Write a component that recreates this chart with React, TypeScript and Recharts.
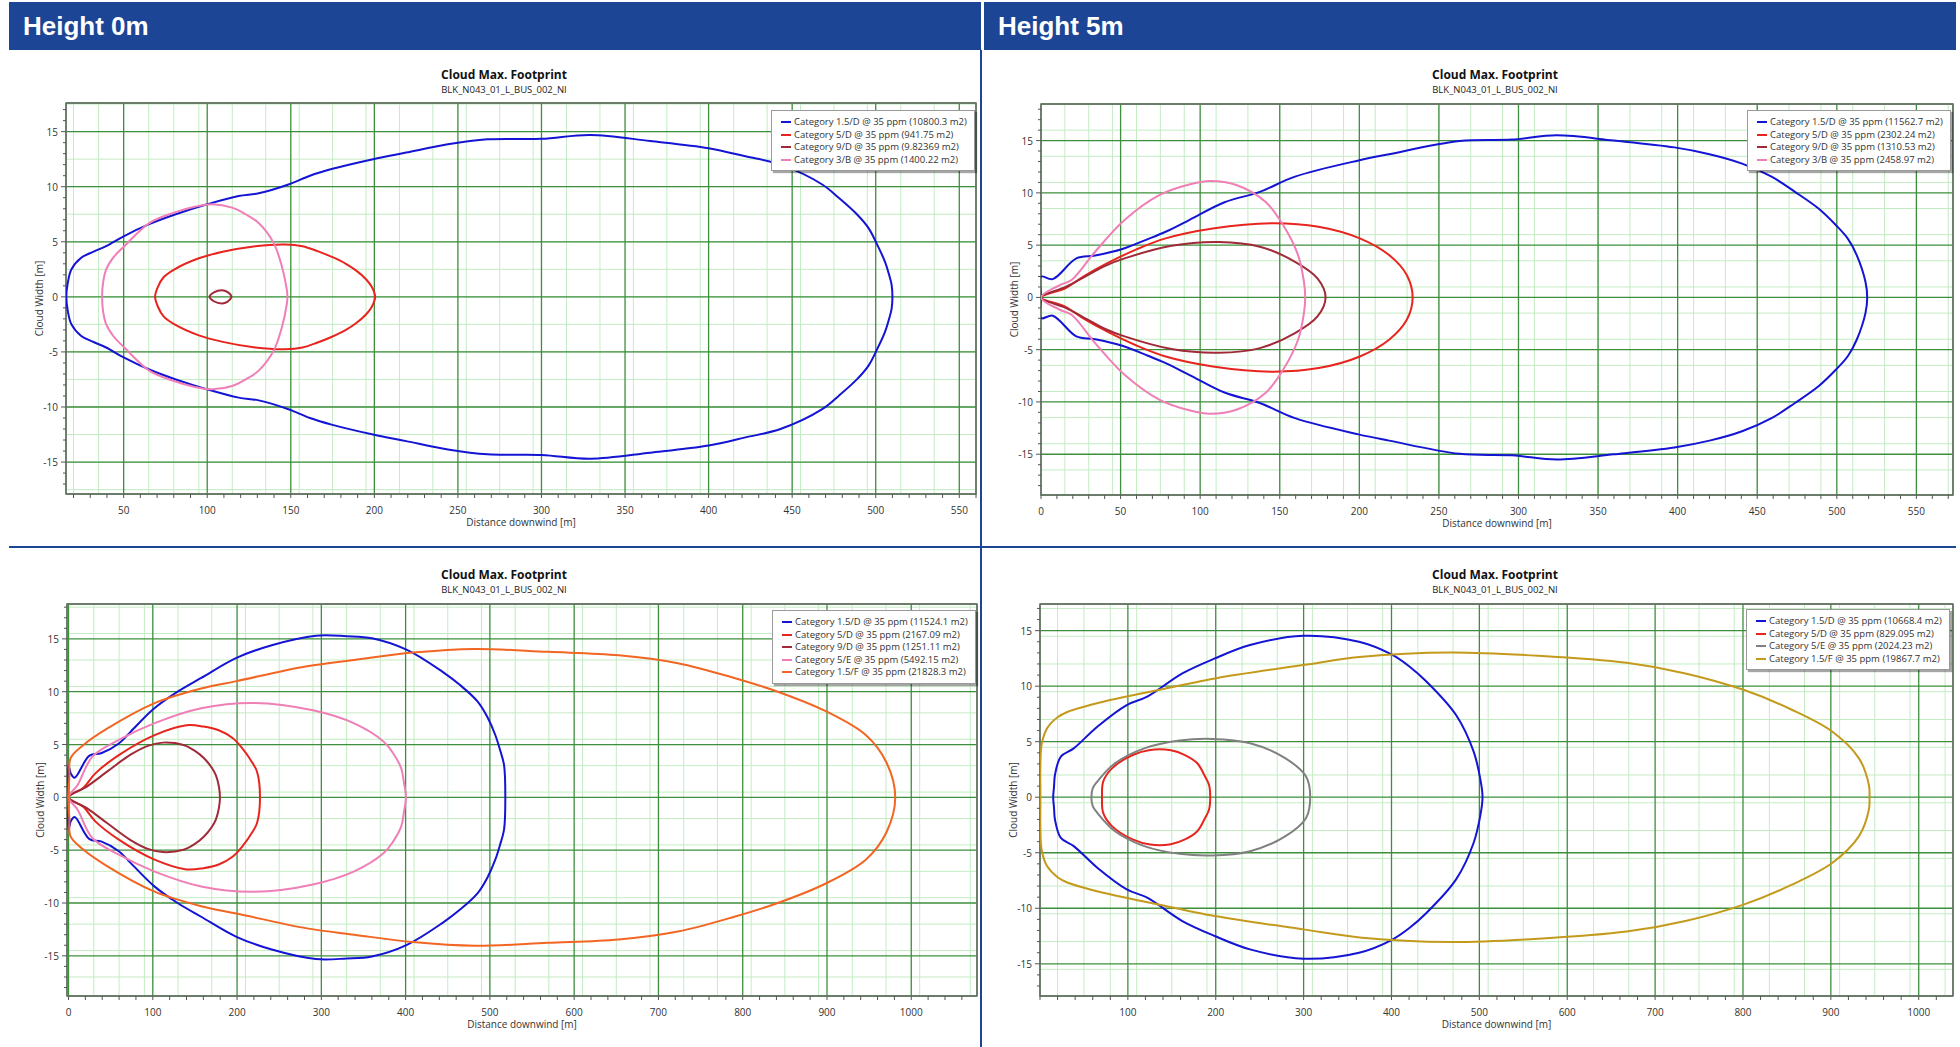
import React from 'react'
import {
  LineChart,
  Line,
  XAxis,
  YAxis,
  CartesianGrid,
  Legend,
  ReferenceArea,
} from 'recharts'

const FONT = "'Open Sans', 'Noto Sans', sans-serif"
const HEAD_BLUE = '#1c4596'

const BLUE = '#1414d4'
const RED = '#e8241e'
const BROWN = '#a02a38'
const PINK = '#ef7fb6'
const ORANGE = '#f26522'
const GRAY = '#808080'
const OLIVE = '#c49a1c'

// ---------- Height 0m, top chart (upper half of each footprint, x then y) ----------
const a15dX = [15.7, 16.5, 18.7, 24.6, 32, 39.5, 50, 65.3, 81.2, 100, 118.8, 130.8, 148.6, 161.5, 174.4, 199.2, 219, 244, 267.7, 300, 329, 365, 400, 422, 443, 468, 478, 489, 495.7, 501, 505.5, 508, 509.5, 510]
const a15dY = [0, 1.2, 2.48, 3.55, 4.1, 4.6, 5.5, 6.6, 7.5, 8.4, 9.15, 9.4, 10.2, 11.0, 11.6, 12.5, 13.1, 13.85, 14.3, 14.35, 14.7, 14.15, 13.5, 12.76, 12.0, 10.2, 8.97, 7.45, 6.24, 4.7, 3.2, 2.0, 1.1, 0]
const a5dX = [68.8, 70.5, 74, 80.2, 95, 109.3, 128.8, 146.6, 157, 166, 175, 183, 189, 195, 198.5, 200.5]
const a5dY = [0, 0.9, 1.8, 2.48, 3.5, 4.09, 4.6, 4.76, 4.6, 4.15, 3.6, 3.0, 2.4, 1.6, 0.9, 0]
const a9dX = [101.4, 104, 108.9, 112, 114.5]
const a9dY = [0, 0.4, 0.6, 0.45, 0]
const a3bX = [37.1, 37.6, 39.5, 44, 50.4, 65.3, 79.2, 93.1, 103, 114.9, 123, 130.8, 139.7, 144.6, 147.6, 148]
const a3bY = [0, 1.2, 2.48, 3.6, 4.6, 6.7, 7.6, 8.2, 8.4, 8.1, 7.5, 6.7, 4.9, 2.8, 0.67, 0]

// ---------- Height 5m, top chart ----------
const b15dX = [0, 0, 7.4, 22.2, 34, 50.6, 67.2, 78.3, 93.1, 115.3, 137.5, 159.6, 199.5, 218.7, 263, 296, 324, 360, 398, 420, 440.5, 459, 473.7, 488.5, 499.5, 507, 512.5, 518, 519.1]
const b15dY = [0, 1.98, 1.75, 3.73, 4.0, 4.6, 5.58, 6.28, 7.4, 9.1, 10.1, 11.55, 13.1, 13.7, 14.96, 15.1, 15.5, 15.0, 14.35, 13.7, 12.8, 11.55, 10.1, 8.5, 6.9, 5.6, 4.05, 1.5, 0]
const b5dX = [0, 15.5, 26.6, 41.4, 60, 78.3, 107.9, 144.8, 174.4, 200.3, 218.7, 229.8, 233.5]
const b5dY = [0, 0.9, 2.0, 3.25, 4.6, 5.65, 6.6, 7.1, 6.76, 5.65, 4.05, 2.14, 0]
const b9dX = [0, 15.5, 26.6, 40, 52.5, 82, 111.6, 137.5, 159.6, 173.7, 178.8]
const b9dY = [0, 1.0, 1.9, 3.0, 3.73, 4.94, 5.3, 4.85, 3.41, 1.82, 0]
const b3bX = [0, 11.8, 19.2, 34, 52.5, 74.6, 93.1, 106, 122.7, 141, 152.2, 161.5, 165.2, 166]
const b3bY = [0, 1.18, 1.66, 4.37, 7.4, 9.8, 10.8, 11.13, 10.75, 9.15, 6.9, 4.05, 1.5, 0]

// ---------- Height 0m, bottom chart ----------
const c15dX = [0, 0, 3, 7.3, 24.8, 38.7, 59.7, 73.6, 101.5, 129.5, 157.4, 199.3, 241.2, 293.5, 330, 360, 401.6, 443.5, 465, 485.5, 497, 506.4, 512, 516.8, 518.3]
const c15dY = [0, 3.06, 2.2, 1.86, 3.95, 4.17, 5.1, 6.2, 8.4, 10.0, 11.3, 13.2, 14.4, 15.3, 15.25, 15.06, 13.96, 11.9, 10.6, 9.06, 7.6, 5.9, 4.5, 3.06, 0]
const c5dX = [0, 17.8, 31.8, 59.7, 101.5, 140, 160, 178.3, 195, 206.3, 218, 223.7, 227.2]
const c5dY = [0, 0.92, 2.27, 4.0, 5.87, 6.82, 6.7, 6.35, 5.6, 4.64, 3.3, 2.43, 0]
const c9dX = [0, 21.3, 45.7, 73.6, 95, 112, 136.4, 150, 160.8, 170, 174.8, 178.5, 179.7]
const c9dY = [0, 1.0, 2.43, 4.04, 4.9, 5.18, 4.96, 4.4, 3.7, 2.8, 2.1, 1.0, 0]
const c5eX = [0, 10.8, 28.3, 59.7, 101.5, 157.4, 220.2, 290, 339, 374, 385, 394.8, 398, 400.4]
const c5eY = [0, 1.17, 3.85, 5.43, 7.0, 8.43, 8.94, 8.24, 7.0, 5.27, 4.2, 2.75, 1.4, 0]
const c15fX = [0, 1, 2.4, 17.8, 45.7, 101.5, 157.4, 199.3, 283, 339, 408.7, 482, 569, 653, 723, 790, 841.6, 897.3, 946, 970.6, 981]
const c15fY = [0, 2.0, 3.7, 4.96, 6.5, 8.9, 10.3, 11.0, 12.4, 13.0, 13.7, 14.05, 13.77, 13.45, 12.7, 11.3, 10.0, 8.2, 5.9, 3.3, 0]

// ---------- Height 5m, bottom chart ----------
const d15dX = [15, 16, 17, 23.7, 38.4, 65.2, 98.7, 122, 162, 199, 239, 299.5, 363, 400, 420, 440, 473.5, 493.5, 501.6, 503.6]
const d15dY = [0, 1.0, 2.0, 3.66, 4.4, 6.35, 8.3, 9.05, 11.15, 12.5, 13.7, 14.54, 14.0, 12.86, 11.8, 10.4, 7.4, 4.1, 1.41, 0]
const d5dX = [70.6, 71.9, 81.9, 105.4, 125.4, 148.9, 165, 179, 187, 192.4, 193.7]
const d5dY = [0, 1.41, 2.6, 3.8, 4.26, 4.23, 3.8, 3.06, 2.0, 1.1, 0]
const d5eX = [58.5, 60, 65.2, 85.3, 118.7, 158.9, 195.7, 239.2, 279.4, 302.8, 307.5]
const d5eY = [0, 0.8, 1.41, 3.06, 4.4, 5.1, 5.25, 4.86, 3.5, 1.86, 0]
const d15fX = [0.5, 0.5, 2, 8, 20, 31.7, 71.9, 125.4, 199, 299.5, 366.4, 466.8, 567.2, 667.6, 734.5, 801.4, 855, 901.8, 932, 943.3, 944]
const d15fY = [0, 3, 4.8, 6.2, 7.2, 7.7, 8.6, 9.5, 10.7, 11.9, 12.65, 13.04, 12.74, 12.1, 11.15, 9.65, 7.9, 5.9, 3.5, 1.1, 0]

// tick labels
const xLabelsA = [50, 100, 150, 200, 250, 300, 350, 400, 450, 500, 550]
const xLabelsB = [0, 50, 100, 150, 200, 250, 300, 350, 400, 450, 500, 550]
const xLabelsC = [0, 100, 200, 300, 400, 500, 600, 700, 800, 900, 1000]
const xLabelsD = [100, 200, 300, 400, 500, 600, 700, 800, 900, 1000]
const yLabels = [-15, -10, -5, 0, 5, 10, 15]

const range = (a: number, b: number, s: number) => {
  const out: number[] = []
  for (let v = a; v <= b + 1e-9; v += s) out.push(Math.round(v * 100) / 100)
  return out
}

type Pt = { x: number; y: number }
const contour = (xs: number[], ys: number[]): Pt[] => {
  const upper = xs.map((x, i) => ({ x, y: ys[i] }))
  const lower = upper.slice(0, -1).reverse().map((p) => ({ x: p.x, y: -p.y }))
  return [...upper, ...lower]
}

// centripetal catmull-rom, wraps round when the path is closed
const smoothClosed = (context: any) => {
  let pts: number[][] = []
  return {
    areaStart() {},
    areaEnd() {},
    lineStart() {
      pts = []
    },
    point(x: number, y: number) {
      pts.push([+x, +y])
    },
    lineEnd() {
      const n = pts.length
      if (!n) return
      context.moveTo(pts[0][0], pts[0][1])
      if (n < 3) {
        for (let i = 1; i < n; i++) context.lineTo(pts[i][0], pts[i][1])
        return
      }
      const closed = Math.hypot(pts[0][0] - pts[n - 1][0], pts[0][1] - pts[n - 1][1]) < 0.5
      const at = (i: number) => {
        if (closed) {
          if (i < 0) return pts[n - 2]
          if (i > n - 1) return pts[1]
        }
        return pts[Math.max(0, Math.min(n - 1, i))]
      }
      for (let i = 0; i < n - 1; i++) {
        const p0 = at(i - 1), p1 = pts[i], p2 = pts[i + 1], p3 = at(i + 2)
        const d01 = Math.hypot(p1[0] - p0[0], p1[1] - p0[1])
        const d12 = Math.hypot(p2[0] - p1[0], p2[1] - p1[1])
        const d23 = Math.hypot(p3[0] - p2[0], p3[1] - p2[1])
        const l01 = Math.sqrt(d01), l12 = Math.sqrt(d12), l23 = Math.sqrt(d23)
        let c1x = p1[0], c1y = p1[1], c2x = p2[0], c2y = p2[1]
        if (l01 > 1e-6) {
          const a = 2 * d01 + 3 * l01 * l12 + d12
          const m = 3 * l01 * (l01 + l12)
          c1x = (p1[0] * a - p0[0] * d12 + p2[0] * d01) / m
          c1y = (p1[1] * a - p0[1] * d12 + p2[1] * d01) / m
        }
        if (l23 > 1e-6) {
          const b = 2 * d23 + 3 * l23 * l12 + d12
          const m = 3 * l23 * (l23 + l12)
          c2x = (p2[0] * b + p1[0] * d23 - p3[0] * d12) / m
          c2y = (p2[1] * b + p1[1] * d23 - p3[1] * d12) / m
        }
        context.bezierCurveTo(c1x, c1y, c2x, c2y, p2[0], p2[1])
      }
    },
  }
}

type Series = { name: string; color: string; xs: number[]; ys: number[] }

function XTick(props: any) {
  const { x, y, payload, labels } = props
  const major = labels.includes(payload.value)
  return (
    <g>
      <line x1={x} x2={x} y1={y} y2={y + 4} stroke="#555" />
      {major && (
        <text x={x} y={y + 16} textAnchor="middle" dominantBaseline="central" fontSize={10} fill="#333" fontFamily={FONT}>
          {payload.value}
        </text>
      )}
    </g>
  )
}

function YTick(props: any) {
  const { x, y, payload, labels } = props
  const major = labels.includes(payload.value)
  return (
    <g>
      <line x1={x - (major ? 5 : 3)} x2={x} y1={y} y2={y} stroke="#555" />
      {major && (
        <text x={x - 8} y={y} textAnchor="end" dominantBaseline="central" fontSize={10} fill="#333" fontFamily={FONT}>
          {payload.value}
        </text>
      )}
    </g>
  )
}

function LegendBox(props: any) {
  const { payload, order } = props
  const items = [...(payload || [])].sort((a: any, b: any) => order.indexOf(a.value) - order.indexOf(b.value))
  return (
    <div
      style={{
        background: '#fff',
        border: '1px solid #9a9a9a',
        boxShadow: '2px 2px 1px rgba(0,0,0,0.35)',
        padding: '5px 7px 4px 9px',
        fontFamily: FONT,
        fontSize: 9.5,
        color: '#333',
        lineHeight: '12.5px',
        whiteSpace: 'nowrap',
      }}
    >
      {items.map((e: any) => (
        <div key={e.value} style={{ display: 'flex', alignItems: 'center' }}>
          <span style={{ display: 'inline-block', width: 10, height: 2, background: e.color, marginRight: 3 }} />
          {e.value}
        </div>
      ))}
    </div>
  )
}

type PanelProps = {
  left: number
  top: number
  width: number
  height: number
  plot: { l: number; t: number; r: number; b: number }
  xDomain: [number, number]
  yDomain: [number, number]
  xLabels: number[]
  xTickStep: number
  xFineStep: number
  xMajorStep: number
  legendPos: { left: number; top: number }
  series: Series[]
}

const YW = 45
const XH = 45

function FootprintChart(p: PanelProps) {
  const margin = {
    top: p.plot.t - p.top,
    left: p.plot.l - p.left - YW,
    right: p.left + p.width - p.plot.r,
    bottom: p.top + p.height - p.plot.b - XH,
  }
  const [x0, x1] = p.xDomain
  const [y0, y1] = p.yDomain
  const xTicks = range(Math.ceil(x0 / p.xTickStep) * p.xTickStep, x1, p.xTickStep)
  const xFine = range(Math.ceil(x0 / p.xFineStep) * p.xFineStep, x1, p.xFineStep)
  const xMajor = range(Math.ceil(x0 / p.xMajorStep) * p.xMajorStep, x1, p.xMajorStep)
  const yTicks = range(Math.ceil(y0), y1, 1)
  const yFine = range(Math.ceil(y0 * 2) / 2, y1, 0.5)
  const yMajor = range(Math.ceil(y0 / 5) * 5, y1, 5)
  const order = p.series.map((s) => s.name)

  return (
    <div style={{ position: 'absolute', left: p.left, top: p.top }}>
      <LineChart width={p.width} height={p.height} margin={margin}>
        <XAxis xAxisId="xf" type="number" dataKey="x" domain={p.xDomain} allowDataOverflow ticks={xFine} hide />
        <YAxis yAxisId="yf" type="number" domain={p.yDomain} allowDataOverflow ticks={yFine} hide />
        <XAxis xAxisId="xg" type="number" dataKey="x" domain={p.xDomain} allowDataOverflow ticks={xMajor} hide />
        <YAxis yAxisId="yg" type="number" domain={p.yDomain} allowDataOverflow ticks={yMajor} hide />
        <CartesianGrid xAxisId="xf" yAxisId="yf" stroke="#c3ecc3" strokeWidth={1} />
        <CartesianGrid xAxisId="xg" yAxisId="yg" stroke="#3d8f3d" strokeWidth={1.3} />
        <XAxis
          xAxisId="x"
          type="number"
          dataKey="x"
          domain={p.xDomain}
          allowDataOverflow
          ticks={xTicks}
          interval={0}
          height={XH}
          tickSize={0}
          tickMargin={0}
          axisLine={false}
          tickLine={false}
          tick={<XTick labels={p.xLabels} />}
          label={{
            content: (lp: any) => (
              <text
                x={lp.viewBox.x + lp.viewBox.width / 2}
                y={lp.viewBox.y + 28}
                textAnchor="middle"
                dominantBaseline="central"
                fontSize={10}
                fill="#333"
                fontFamily={FONT}
              >
                Distance downwind [m]
              </text>
            ),
          }}
        />
        <YAxis
          yAxisId="y"
          type="number"
          dataKey="y"
          domain={p.yDomain}
          allowDataOverflow
          ticks={yTicks}
          interval={0}
          width={YW}
          tickSize={0}
          tickMargin={0}
          axisLine={false}
          tickLine={false}
          tick={<YTick labels={yLabels} />}
          label={{
            content: (lp: any) => {
              const cx = lp.viewBox.x + lp.viewBox.width - 27
              const cy = lp.viewBox.y + lp.viewBox.height / 2
              return (
                <text
                  transform={`translate(${cx},${cy}) rotate(-90)`}
                  textAnchor="middle"
                  dominantBaseline="central"
                  fontSize={10}
                  fill="#333"
                  fontFamily={FONT}
                >
                  Cloud Width [m]
                </text>
              )
            },
          }}
        />
        <ReferenceArea xAxisId="x" yAxisId="y" x1={x0} x2={x1} y1={y0} y2={y1} fill="none" stroke="#6e6e6e" strokeWidth={1.5} ifOverflow="visible" />
        {p.series.map((s) => (
          <Line
            key={s.name}
            xAxisId="x"
            yAxisId="y"
            name={s.name}
            data={contour(s.xs, s.ys)}
            dataKey="y"
            type={smoothClosed as any}
            stroke={s.color}
            strokeWidth={2}
            dot={false}
            activeDot={false}
            isAnimationActive={false}
          />
        ))}
        <Legend
          layout="vertical"
          align="center"
          verticalAlign="middle"
          itemSorter={null as any}
          content={<LegendBox order={order} />}
          wrapperStyle={{ left: p.legendPos.left, top: p.legendPos.top, width: 'auto', height: 'auto' }}
        />
      </LineChart>
    </div>
  )
}

function Header({ left, text }: { left: number; text: string }) {
  return (
    <div
      style={{
        position: 'absolute',
        left,
        top: 2,
        width: 972,
        height: 48,
        background: HEAD_BLUE,
        color: '#fff',
        fontFamily: "'Liberation Sans', Arial, sans-serif",
        fontWeight: 'bold',
        fontSize: 26,
        lineHeight: '48px',
        paddingLeft: 14,
        boxSizing: 'border-box',
      }}
    >
      {text}
    </div>
  )
}

function Titles({ cx, top }: { cx: number; top: number }) {
  return (
    <>
      <div style={{ position: 'absolute', left: cx - 200, top, width: 400, textAlign: 'center', fontFamily: FONT, fontWeight: 'bold', fontSize: 12, color: '#111', lineHeight: '16px' }}>
        Cloud Max. Footprint
      </div>
      <div style={{ position: 'absolute', left: cx - 200, top: top + 16, width: 400, textAlign: 'center', fontFamily: FONT, fontSize: 9.5, color: '#222', lineHeight: '14px' }}>
        BLK_N043_01_L_BUS_002_NI
      </div>
    </>
  )
}

export default function App() {
  return (
    <div style={{ position: 'absolute', left: 0, top: 0, width: 1960, height: 1047, background: '#fff', overflow: 'hidden' }}>
      <Header left={9} text="Height 0m" />
      <Header left={984} text="Height 5m" />
      <div style={{ position: 'absolute', left: 980, top: 50, width: 2, height: 997, background: HEAD_BLUE }} />
      <div style={{ position: 'absolute', left: 9, top: 546, width: 1947, height: 2, background: HEAD_BLUE }} />

      <Titles cx={504} top={67} />
      <Titles cx={1495} top={67} />
      <Titles cx={504} top={567} />
      <Titles cx={1495} top={567} />

      <FootprintChart
        left={0}
        top={52}
        width={979}
        height={494}
        plot={{ l: 66, t: 103, r: 976, b: 494 }}
        xDomain={[15.5, 560]}
        yDomain={[-17.9, 17.6]}
        xLabels={xLabelsA}
        xTickStep={10}
        xFineStep={5}
        xMajorStep={50}
        legendPos={{ left: 771, top: 58 }}
        series={[
          { name: 'Category 1.5/D @ 35 ppm (10800.3 m2)', color: BLUE, xs: a15dX, ys: a15dY },
          { name: 'Category 5/D @ 35 ppm (941.75 m2)', color: RED, xs: a5dX, ys: a5dY },
          { name: 'Category 9/D @ 35 ppm (9.82369 m2)', color: BROWN, xs: a9dX, ys: a9dY },
          { name: 'Category 3/B @ 35 ppm (1400.22 m2)', color: PINK, xs: a3bX, ys: a3bY },
        ]}
      />
      <FootprintChart
        left={982}
        top={52}
        width={978}
        height={494}
        plot={{ l: 1041, t: 104, r: 1953, b: 495 }}
        xDomain={[0, 573]}
        yDomain={[-18.9, 18.5]}
        xLabels={xLabelsB}
        xTickStep={10}
        xFineStep={5}
        xMajorStep={50}
        legendPos={{ left: 765, top: 58 }}
        series={[
          { name: 'Category 1.5/D @ 35 ppm (11562.7 m2)', color: BLUE, xs: b15dX, ys: b15dY },
          { name: 'Category 5/D @ 35 ppm (2302.24 m2)', color: RED, xs: b5dX, ys: b5dY },
          { name: 'Category 9/D @ 35 ppm (1310.53 m2)', color: BROWN, xs: b9dX, ys: b9dY },
          { name: 'Category 3/B @ 35 ppm (2458.97 m2)', color: PINK, xs: b3bX, ys: b3bY },
        ]}
      />
      <FootprintChart
        left={0}
        top={552}
        width={979}
        height={495}
        plot={{ l: 67, t: 604, r: 977, b: 996 }}
        xDomain={[-1.8, 1078]}
        yDomain={[-18.8, 18.3]}
        xLabels={xLabelsC}
        xTickStep={20}
        xFineStep={10}
        xMajorStep={100}
        legendPos={{ left: 772, top: 58 }}
        series={[
          { name: 'Category 1.5/D @ 35 ppm (11524.1 m2)', color: BLUE, xs: c15dX, ys: c15dY },
          { name: 'Category 5/D @ 35 ppm (2167.09 m2)', color: RED, xs: c5dX, ys: c5dY },
          { name: 'Category 9/D @ 35 ppm (1251.11 m2)', color: BROWN, xs: c9dX, ys: c9dY },
          { name: 'Category 5/E @ 35 ppm (5492.15 m2)', color: PINK, xs: c5eX, ys: c5eY },
          { name: 'Category 1.5/F @ 35 ppm (21828.3 m2)', color: ORANGE, xs: c15fX, ys: c15fY },
        ]}
      />
      <FootprintChart
        left={982}
        top={552}
        width={978}
        height={495}
        plot={{ l: 1040, t: 604, r: 1953, b: 996 }}
        xDomain={[0, 1039]}
        yDomain={[-17.9, 17.4]}
        xLabels={xLabelsD}
        xTickStep={20}
        xFineStep={10}
        xMajorStep={100}
        legendPos={{ left: 764, top: 57 }}
        series={[
          { name: 'Category 1.5/D @ 35 ppm (10668.4 m2)', color: BLUE, xs: d15dX, ys: d15dY },
          { name: 'Category 5/D @ 35 ppm (829.095 m2)', color: RED, xs: d5dX, ys: d5dY },
          { name: 'Category 5/E @ 35 ppm (2024.23 m2)', color: GRAY, xs: d5eX, ys: d5eY },
          { name: 'Category 1.5/F @ 35 ppm (19867.7 m2)', color: OLIVE, xs: d15fX, ys: d15fY },
        ]}
      />
    </div>
  )
}
